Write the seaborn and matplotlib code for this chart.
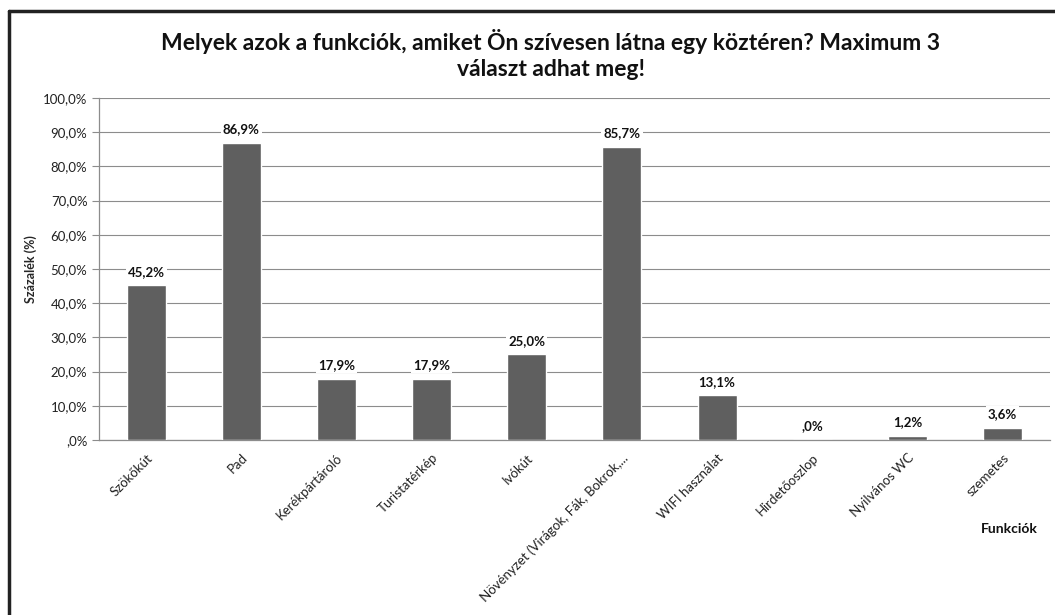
import matplotlib
matplotlib.use("Agg")
import matplotlib.pyplot as plt
import seaborn as sns
import pandas as pd
from matplotlib.lines import Line2D

categories = ["Szökőkút", "Pad", "Kerékpártároló", "Turistatérkép", "Ivókút",
              "Növényzet (Virágok, Fák, Bokrok,...", "WIFI használat",
              "Hirdetőoszlop", "Nyilvános WC", "szemetes"]
values = [45.2, 86.9, 17.9, 17.9, 25.0, 85.7, 13.1, 0.0, 1.2, 3.6]
yticks = [0, 10, 20, 30, 40, 50, 60, 70, 80, 90, 100]


def hu_pct(v):
    s = f"{v:.1f}".replace(".", ",")
    if s.startswith("0,"):
        s = s[1:]
    return s + "%"


sns.set_theme(style="white")
plt.rcParams["font.family"] = ["Lato", "DejaVu Sans"]

df = pd.DataFrame({"cat": categories, "val": values})

fig = plt.figure(figsize=(10.55, 6.15), dpi=100)
ax = fig.add_axes([0.0934, 0.2846, 0.902, 0.5561])

sns.barplot(data=df, x="cat", y="val", color="#5f5f5f", saturation=1,
            width=0.41, ax=ax, zorder=3)

ax.set_ylim(0, 100)
ax.set_xlim(-0.5, len(categories) - 0.5)
ax.set_yticks(yticks)
ax.set_yticklabels([hu_pct(t) for t in yticks], fontsize=9.5, color="#222222")
ax.yaxis.grid(True, color="#8c8c8c", linewidth=0.8, zorder=0)
ax.tick_params(axis="y", length=5, width=0.8, color="#8c8c8c", left=True, pad=3)
ax.tick_params(axis="x", length=0)
ax.set_xticks(range(len(categories)))
ax.set_xticklabels(categories, rotation=45, ha="right", rotation_mode="anchor",
                   fontsize=9.5, color="#222222")
for lbl in ax.get_xticklabels():
    lbl.set_y(-0.02)

for sp in ["top", "right"]:
    ax.spines[sp].set_visible(False)
for sp in ["left", "bottom"]:
    ax.spines[sp].set_color("#8c8c8c")
    ax.spines[sp].set_linewidth(0.9)

for i, v in enumerate(values):
    ax.text(i, v + 2.2, hu_pct(v), ha="center", va="bottom", fontsize=9.5,
            fontweight="bold", color="#111111", zorder=4,
            bbox=dict(facecolor="white", edgecolor="none", pad=1.5))

ax.set_xlabel("")
ax.set_ylabel("Százalék (%)", fontsize=9, fontweight="bold", labelpad=4)

fig.text(0.957, 0.14, "Funkciók", ha="center", va="center", fontsize=10,
         fontweight="bold", color="#111111")
fig.text(0.522, 0.912, "Melyek azok a funkciók, amiket Ön szívesen látna egy köztéren? Maximum 3\nválaszt adhat meg!",
         ha="center", va="center", fontsize=16.5, fontweight="bold",
         color="#111111", linespacing=1.3)

# frame lines on left and top
fig.add_artist(Line2D([0.0085, 0.0085], [0, 0.982], color="#222222",
                      linewidth=2.5, transform=fig.transFigure))
fig.add_artist(Line2D([0.0085, 1.0], [0.982, 0.982], color="#222222",
                      linewidth=2.5, transform=fig.transFigure))

fig.savefig("out.png", dpi=100, facecolor="white")
